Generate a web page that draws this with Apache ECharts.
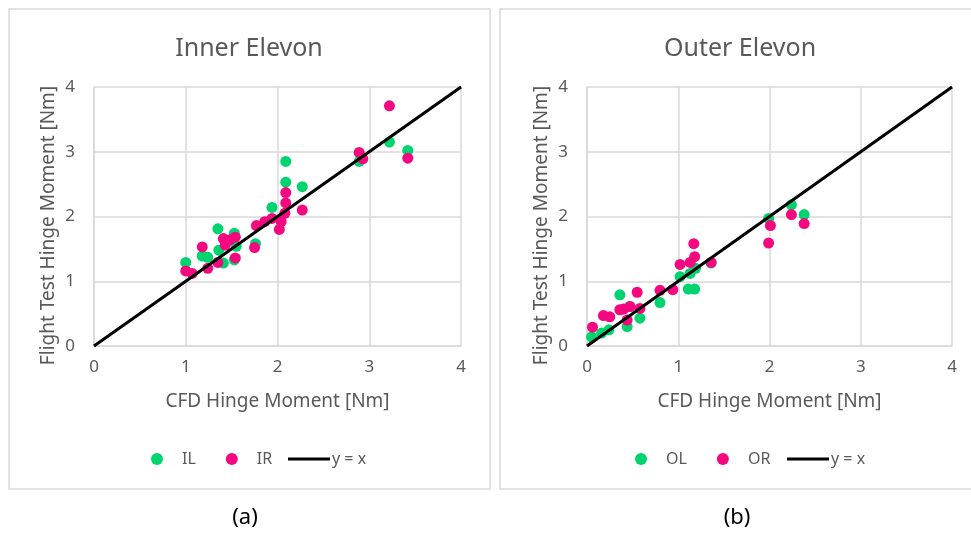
<!DOCTYPE html>
<html>
<head>
<meta charset="utf-8">
<style>
  html, body { margin: 0; padding: 0; background: #fff; }
  #chart { width: 971px; height: 535px; }
</style>
<script src="https://cdn.jsdelivr.net/npm/echarts@6/dist/echarts.min.js"></script>
</head>
<body>
<div id="chart"></div>
<script>
// Hinge moment comparison: CFD prediction vs. flight test, [CFD, flight] pairs in Nm
const innerLeft = [
  [1.00, 1.29], [1.18, 1.39], [1.24, 1.37], [1.35, 1.81], [1.36, 1.48],
  [1.41, 1.28], [1.53, 1.74], [1.55, 1.54], [1.53, 1.33], [1.76, 1.58],
  [1.94, 2.14], [2.09, 2.85], [2.09, 2.53], [2.27, 2.46], [2.89, 2.85],
  [3.22, 3.15], [3.42, 3.02]
];
const innerRight = [
  [1.00, 1.16], [1.07, 1.12], [1.18, 1.53], [1.24, 1.20], [1.35, 1.29],
  [1.41, 1.66], [1.43, 1.56], [1.48, 1.64], [1.54, 1.68], [1.54, 1.36],
  [1.75, 1.52], [1.77, 1.86], [1.86, 1.92], [1.94, 1.97], [2.02, 1.80],
  [2.04, 1.92], [2.08, 2.05], [2.09, 2.21], [2.09, 2.37], [2.27, 2.10],
  [2.89, 2.99], [2.93, 2.89], [3.22, 3.71], [3.42, 2.90]
];
const outerLeft = [
  [0.05, 0.14], [0.16, 0.20], [0.24, 0.25], [0.36, 0.79], [0.44, 0.30],
  [0.47, 0.61], [0.58, 0.43], [0.80, 0.67], [1.02, 1.07], [1.13, 1.12],
  [1.11, 0.88], [1.18, 0.88], [1.19, 1.20], [1.36, 1.28], [1.99, 1.97],
  [2.24, 2.18], [2.38, 2.03]
];
const outerRight = [
  [0.06, 0.29], [0.18, 0.47], [0.25, 0.45], [0.36, 0.56], [0.40, 0.57],
  [0.44, 0.40], [0.47, 0.61], [0.55, 0.83], [0.58, 0.58], [0.80, 0.86],
  [0.94, 0.87], [1.02, 1.26], [1.13, 1.29], [1.18, 1.38], [1.17, 1.58],
  [1.36, 1.29], [1.99, 1.59], [2.01, 1.86], [2.24, 2.03], [2.38, 1.89]
];
const identityLine = [[0, 0], [4, 4]];
const axisTicks = { min: 0, max: 4, interval: 1 };

const GREEN = '#00D46E';
const PINK = '#F5077F';
const TEXT = '#595959';
const GRID = '#D9D9D9';
const FONT = '"Noto Sans", "Open Sans", sans-serif';

function xAxisFor(gridIndex) {
  return {
    type: 'value', gridIndex, ...axisTicks,
    name: 'CFD Hinge Moment [Nm]', nameLocation: 'middle', nameGap: 46,
    nameTextStyle: { color: TEXT, fontSize: 19, fontFamily: FONT },
    axisLine: { show: true, lineStyle: { color: GRID, width: 1.5 } },
    axisTick: { show: false },
    axisLabel: { color: TEXT, fontSize: 17, fontFamily: FONT, margin: 13 },
    splitLine: { show: true, lineStyle: { color: GRID, width: 1.5 } }
  };
}
function yAxisFor(gridIndex) {
  return {
    type: 'value', gridIndex, ...axisTicks,
    name: 'Flight Test Hinge Moment [Nm]', nameLocation: 'middle', nameGap: 36,
    nameTextStyle: { color: TEXT, fontSize: 19, fontFamily: FONT, padding: [0, 18, 0, 0] },
    axisLine: { show: true, lineStyle: { color: GRID, width: 1.5 } },
    axisTick: { show: false },
    axisLabel: { color: TEXT, fontSize: 17, fontFamily: FONT, margin: 19 },
    splitLine: { show: true, lineStyle: { color: GRID, width: 1.5 } }
  };
}
function scatter(name, data, color, idx) {
  return {
    name, type: 'scatter', data, xAxisIndex: idx, yAxisIndex: idx,
    symbolSize: 11, itemStyle: { color, opacity: 1 }
  };
}
function diagonal(idx) {
  return {
    name: 'y = x', type: 'line', data: identityLine, xAxisIndex: idx, yAxisIndex: idx,
    symbol: 'none', itemStyle: { color: '#000' },
    lineStyle: { color: '#000', width: 3 }, z: 5
  };
}
function dotLegend(names, left) {
  return {
    left, top: 446, data: names, icon: 'circle', itemWidth: 12, itemHeight: 12,
    itemGap: 30, textStyle: { color: TEXT, fontSize: 16, fontFamily: FONT, padding: [0, 0, 0, 14] }
  };
}
function lineLegend(left) {
  return {
    left, top: 446, data: [{ name: 'y = x', icon: 'rect' }], itemWidth: 42, itemHeight: 3,
    itemGap: 0, textStyle: { color: TEXT, fontSize: 16, fontFamily: FONT, padding: [0, 0, 0, -3] }
  };
}

const chart = echarts.init(document.getElementById('chart'), null, { renderer: 'canvas' });
chart.setOption({
  backgroundColor: '#fff',
  animation: false,
  title: [
    { text: 'Inner Elevon', left: 244, top: 31, textAlign: 'center',
      textStyle: { color: TEXT, fontSize: 25, fontWeight: 'normal', fontFamily: FONT } },
    { text: 'Outer Elevon', left: 735, top: 31, textAlign: 'center',
      textStyle: { color: TEXT, fontSize: 25, fontWeight: 'normal', fontFamily: FONT } },
    { text: '(a)', left: 240, top: 502, textAlign: 'center',
      textStyle: { color: '#000', fontSize: 22, fontWeight: 'normal', fontFamily: FONT } },
    { text: '(b)', left: 732, top: 502, textAlign: 'center',
      textStyle: { color: '#000', fontSize: 22, fontWeight: 'normal', fontFamily: FONT } }
  ],
  graphic: [
    { type: 'rect', shape: { x: 9, y: 9, width: 481, height: 480 },
      style: { fill: 'none', stroke: GRID, lineWidth: 1.5 }, silent: true },
    { type: 'rect', shape: { x: 500, y: 9, width: 490, height: 480 },
      style: { fill: 'none', stroke: GRID, lineWidth: 1.5 }, silent: true }
  ],
  legend: [
    dotLegend(['IL', 'IR'], 146),
    lineLegend(283),
    dotLegend(['OL', 'OR'], 630),
    lineLegend(782)
  ],
  grid: [
    { left: 94, top: 87, width: 367, height: 259 },
    { left: 587, top: 87, width: 365, height: 259 }
  ],
  xAxis: [xAxisFor(0), xAxisFor(1)],
  yAxis: [yAxisFor(0), yAxisFor(1)],
  series: [
    scatter('IL', innerLeft, GREEN, 0),
    scatter('IR', innerRight, PINK, 0),
    diagonal(0),
    scatter('OL', outerLeft, GREEN, 1),
    scatter('OR', outerRight, PINK, 1),
    diagonal(1)
  ]
});
</script>
</body>
</html>
